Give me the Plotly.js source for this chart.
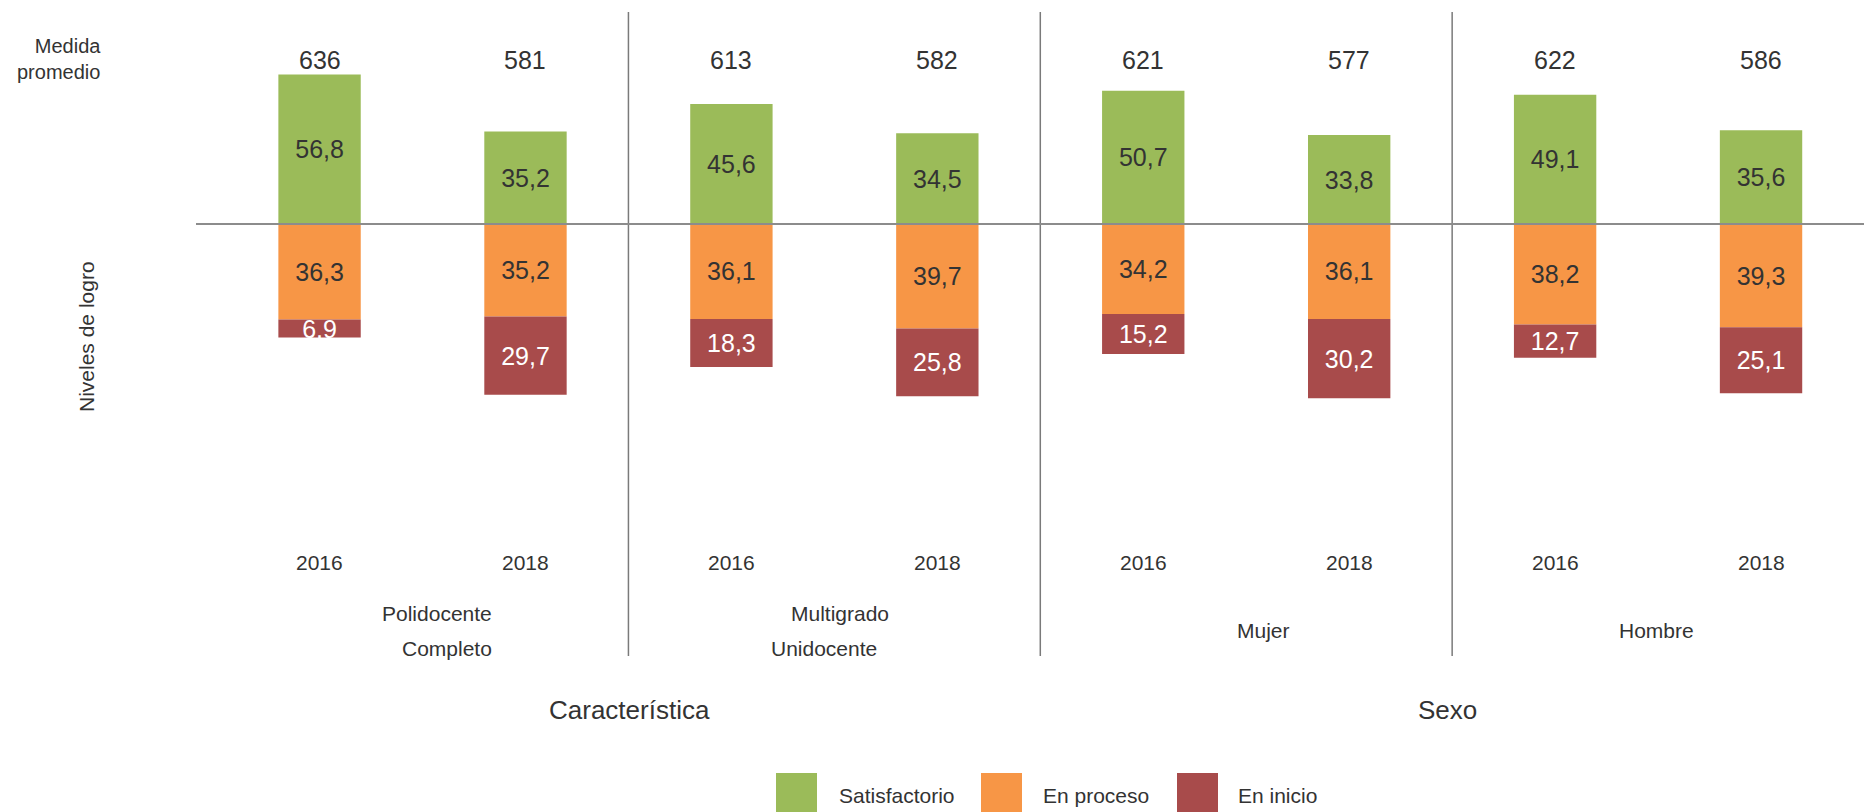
<!DOCTYPE html>
<html>
<head>
<meta charset="utf-8">
<script src="https://cdn.plot.ly/plotly-3.0.1.min.js"></script>
<style>
  html, body { margin: 0; padding: 0; background: #ffffff; }
  #chart { width: 1864px; height: 812px; }
</style>
</head>
<body>
<div id="chart"></div>
<script>
// ---- Data ----
const categories = ['Polidocente Completo 2016', 'Polidocente Completo 2018',
                    'Multigrado Unidocente 2016', 'Multigrado Unidocente 2018',
                    'Mujer 2016', 'Mujer 2018', 'Hombre 2016', 'Hombre 2018'];
const years = ['2016', '2018', '2016', '2018', '2016', '2018', '2016', '2018'];
const groupLabels = [['Polidocente', 'Completo'], ['Multigrado', 'Unidocente'], ['Mujer'], ['Hombre']];
const superGroups = ['Característica', 'Sexo'];
const medidaPromedio = [636, 581, 613, 582, 621, 577, 622, 586];
const satisfactorio = [56.8, 35.2, 45.6, 34.5, 50.7, 33.8, 49.1, 35.6];
const enProceso = [36.3, 35.2, 36.1, 39.7, 34.2, 36.1, 38.2, 39.3];
const enInicio = [6.9, 29.7, 18.3, 25.8, 15.2, 30.2, 12.7, 25.1];
const seriesNames = ['Satisfactorio', 'En proceso', 'En inicio'];
const seriesColors = ['#9BBB59', '#F79646', '#A84B4B'];

// ---- Layout geometry (pixels) ----
const W = 1864, H = 812, L = 196, R = 0, T = 12, B = 156;
const plotW = W - L - R, plotH = H - T - B;
const pxX = x => (x - L) / plotW;
const pxY = y => (H - B - y) / plotH;
const basePx = 224, pxPerUnit = 2.63;
const yRange = [-(H - B - basePx) / pxPerUnit, (basePx - T) / pxPerUnit];

const FONT = 'Liberation Sans, Arial, Helvetica, sans-serif';
const TXT = '#333333';
const fmt = v => v.toFixed(1).replace('.', ',');

const mkBar = (vals, sign, i, textColor) => ({
  type: 'bar',
  x: categories,
  y: vals.map(v => sign * v),
  name: seriesNames[i],
  marker: { color: seriesColors[i], line: { width: 0 } },
  width: 0.4,
  text: vals.map(fmt),
  textposition: 'inside',
  insidetextanchor: 'middle',
  textangle: 0,
  textfont: { family: FONT, size: 25, color: textColor },
  hoverinfo: 'x+text+name',
  showlegend: false,
  cliponaxis: false
});

const data = [
  mkBar(satisfactorio, 1, 0, TXT),
  mkBar(enProceso, -1, 1, TXT),
  mkBar(enInicio, -1, 2, '#ffffff')
];

const annotations = [];
// Medida promedio row
medidaPromedio.forEach((m, i) => annotations.push({
  x: categories[i], xref: 'x', y: pxY(60), yref: 'paper',
  text: String(m), showarrow: false, xanchor: 'center', yanchor: 'middle',
  font: { family: FONT, size: 25, color: TXT }
}));
// Year row
years.forEach((yr, i) => annotations.push({
  x: categories[i], xref: 'x', y: pxY(562), yref: 'paper',
  text: yr, showarrow: false, xanchor: 'center', yanchor: 'middle',
  font: { family: FONT, size: 21, color: TXT }
}));
// Group labels (one annotation per line)
const groupShift = [[14, 24], [6, -10], [17], [-2]];
const groupLineY = { 2: [613, 648], 1: [630] };
groupLabels.forEach((lines, g) => lines.forEach((t, k) => annotations.push({
  x: 2 * g + 0.5, xref: 'x', y: pxY(groupLineY[lines.length][k]), yref: 'paper',
  xshift: groupShift[g][k],
  text: t, showarrow: false, xanchor: 'center', yanchor: 'middle',
  font: { family: FONT, size: 21, color: TXT }
})));
// Super groups
const superShift = [1, -5];
superGroups.forEach((s, i) => annotations.push({
  x: 4 * i + 1.5, xref: 'x', y: pxY(710), yref: 'paper', xshift: superShift[i],
  text: s, showarrow: false, xanchor: 'center', yanchor: 'middle',
  font: { family: FONT, size: 26, color: TXT }
}));
// Left titles
annotations.push({
  x: pxX(103), xref: 'paper', y: pxY(59), yref: 'paper',
  text: 'Medida<br>promedio', showarrow: false, xanchor: 'right', yanchor: 'middle', align: 'right',
  font: { family: FONT, size: 20, color: TXT }
});
annotations.push({
  x: pxX(87), xref: 'paper', y: pxY(337), yref: 'paper',
  text: 'Niveles de logro', showarrow: false, textangle: -90, xanchor: 'center', yanchor: 'middle',
  font: { family: FONT, size: 21, color: TXT }
});

const shapes = [];
// Zero baseline
shapes.push({ type: 'line', xref: 'paper', yref: 'y', x0: 0, x1: 1, y0: 0, y1: 0,
  line: { color: '#8c8c8c', width: 2 }, layer: 'above' });
// Group dividers
[1.5, 3.5, 5.5].forEach(xv => shapes.push({
  type: 'line', xref: 'x', yref: 'paper', x0: xv, x1: xv, y0: 0, y1: 1,
  line: { color: '#7a7a7a', width: 1.5 }, layer: 'below'
}));

// Custom legend (large swatches)
const legSwatchX = [776, 981, 1177];
const legTextX = [837, 1041, 1236];
seriesNames.forEach((n, i) => {
  shapes.push({ type: 'rect', xref: 'paper', yref: 'paper',
    x0: pxX(legSwatchX[i]), x1: pxX(legSwatchX[i] + 41),
    y0: pxY(814), y1: pxY(773),
    fillcolor: seriesColors[i], line: { width: 0 } });
  annotations.push({
    x: pxX(legTextX[i]), xref: 'paper', y: pxY(795), yref: 'paper',
    text: n, showarrow: false, xanchor: 'left', yanchor: 'middle',
    font: { family: FONT, size: 21, color: TXT }
  });
});

const layout = {
  width: W, height: H,
  margin: { l: L, r: R, t: T, b: B, pad: 0 },
  paper_bgcolor: '#ffffff', plot_bgcolor: '#ffffff',
  barmode: 'relative',
  showlegend: false,
  uniformtext: { mode: 'show', minsize: 25 },
  font: { family: FONT, color: TXT },
  xaxis: { type: 'category', range: [-0.6, 7.5], showticklabels: false, showgrid: false,
           zeroline: false, showline: false, ticks: '', fixedrange: true },
  yaxis: { range: yRange, showticklabels: false, showgrid: false, zeroline: false,
           showline: false, ticks: '', fixedrange: true },
  annotations: annotations,
  shapes: shapes
};

Plotly.newPlot('chart', data, layout, { displayModeBar: false, staticPlot: true });
</script>
</body>
</html>
